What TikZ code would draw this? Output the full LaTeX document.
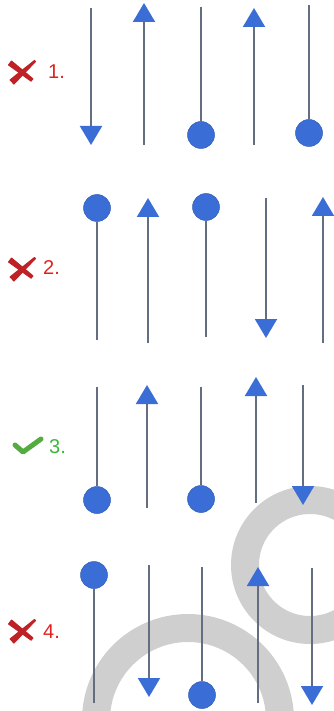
\documentclass[tikz,border=0pt]{standalone}
\usepackage{fontspec}
\setmainfont{Liberation Sans}
\usetikzlibrary{arrows.meta}
\definecolor{ablue}{RGB}{58,110,214}
\definecolor{aline}{RGB}{100,110,130}
\definecolor{wm}{RGB}{207,207,207}
\definecolor{lred}{RGB}{226,32,32}
\definecolor{xred}{RGB}{190,34,38}
\definecolor{lgreen}{RGB}{60,182,60}
\definecolor{cgreen}{RGB}{84,172,64}
\tikzset{
 stem/.style={draw=aline, line width=2pt},
 arw/.style={stem, -{Triangle[width=22pt,length=19pt,color=ablue,fill=ablue]}},
 ball/.style={circle, fill=ablue, draw=ablue!85!black, line width=0.5pt, minimum size=27pt, inner sep=0pt},
 lab/.style={font=\fontsize{20}{20}\selectfont, anchor=west, inner sep=0pt},
 xstroke/.style={fill=xred, draw=xred, line width=1pt, line join=round},
 cmark/.style={draw=cgreen, line width=5pt, line cap=round, line join=round},
 ring/.style={draw=wm, line width=28pt},
 crossmark/.pic={
   \path[xstroke] (8.5,-6) -- (11.5,-10) -- (32.9,7.8) -- (31.1,10.2) -- cycle;
   \path[xstroke] (35.5,-9.4) -- (34.5,-10.6) -- (10.1,8.9) -- (13.9,13.1) -- cycle;
 },
}
\begin{document}
\begin{tikzpicture}[x=1pt,y=-1pt]
\useasboundingbox (0,0) rectangle (334,711);
% watermark
\begin{scope}
\clip (0,0) rectangle (334,711);
\draw[ring] (310,565) circle (65pt);
\draw[ring] (188,720) circle (92pt);
\end{scope}

% labels
\pic at (0,71) {crossmark};
\node[lab, text=lred] (l1) at (48,72) {1.};
\pic at (0,268) {crossmark};
\node[lab, text=lred] (l2) at (43,268) {2.};
\draw[cmark] (15,445) -- (23,452) -- (41,439);
\node[lab, text=lgreen] (l3) at (49,447) {3.};
\pic at (0,630) {crossmark};
\node[lab, text=lred] (l4) at (43,632) {4.};

% row 1
\coordinate (r1a1t) at (91,8);   \coordinate (r1a1b) at (91,145);
\draw[arw] (r1a1t) -- (r1a1b);
\coordinate (r1a2b) at (144,145); \coordinate (r1a2t) at (144,3);
\draw[arw] (r1a2b) -- (r1a2t);
\node[ball] (r1b3) at (201,135) {}; \coordinate (r1a3t) at (201,7);
\draw[stem] (r1a3t) -- (r1b3);
\coordinate (r1a4b) at (254,145); \coordinate (r1a4t) at (254,8);
\draw[arw] (r1a4b) -- (r1a4t);
\node[ball] (r1b5) at (309,133) {}; \coordinate (r1a5t) at (309,5);
\draw[stem] (r1a5t) -- (r1b5);

% row 2
\node[ball] (r2b1) at (97,208) {}; \coordinate (r2a1b) at (97,340);
\draw[stem] (r2b1) -- (r2a1b);
\coordinate (r2a2b) at (148,343); \coordinate (r2a2t) at (148,198);
\draw[arw] (r2a2b) -- (r2a2t);
\node[ball] (r2b3) at (206,207) {}; \coordinate (r2a3b) at (206,337);
\draw[stem] (r2b3) -- (r2a3b);
\coordinate (r2a4t) at (266,198); \coordinate (r2a4b) at (266,338);
\draw[arw] (r2a4t) -- (r2a4b);
\coordinate (r2a5b) at (323,343); \coordinate (r2a5t) at (323,197);
\draw[arw] (r2a5b) -- (r2a5t);

% row 3
\node[ball] (r3b1) at (97,500) {}; \coordinate (r3a1t) at (97,387);
\draw[stem] (r3a1t) -- (r3b1);
\coordinate (r3a2b) at (147,508); \coordinate (r3a2t) at (147,385);
\draw[arw] (r3a2b) -- (r3a2t);
\node[ball] (r3b3) at (201,499) {}; \coordinate (r3a3t) at (201,387);
\draw[stem] (r3a3t) -- (r3b3);
\coordinate (r3a4b) at (256,503); \coordinate (r3a4t) at (256,377);
\draw[arw] (r3a4b) -- (r3a4t);
\coordinate (r3a5t) at (303,385); \coordinate (r3a5b) at (303,505);
\draw[arw] (r3a5t) -- (r3a5b);

% row 4
\node[ball] (r4b1) at (94,575) {}; \coordinate (r4a1b) at (94,703);
\draw[stem] (r4b1) -- (r4a1b);
\coordinate (r4a2t) at (149,565); \coordinate (r4a2b) at (149,697);
\draw[arw] (r4a2t) -- (r4a2b);
\node[ball] (r4b3) at (202,695) {}; \coordinate (r4a3t) at (202,567);
\draw[stem] (r4a3t) -- (r4b3);
\coordinate (r4a4b) at (258,703); \coordinate (r4a4t) at (258,567);
\draw[arw] (r4a4b) -- (r4a4t);
\coordinate (r4a5t) at (312,568); \coordinate (r4a5b) at (312,705);
\draw[arw] (r4a5t) -- (r4a5b);
\end{tikzpicture}
\end{document}
